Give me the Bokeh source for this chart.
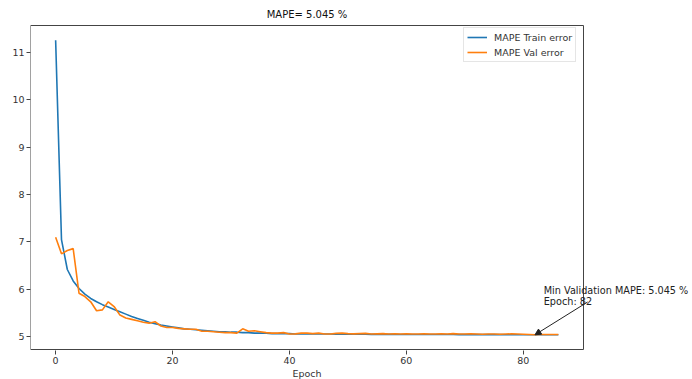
from bokeh.plotting import figure
from bokeh.models import Range1d, Label, Arrow, NormalHead, Legend, LegendItem
from bokeh.embed import file_html
from bokeh.resources import INLINE

# ---- data ----
epochs = list(range(87))
train_mape = [
    11.25, 7.05, 6.42, 6.18, 6.02, 5.90, 5.81, 5.74, 5.68, 5.63,
    5.58, 5.53, 5.48, 5.43, 5.39, 5.35, 5.31, 5.28, 5.25, 5.23,
    5.21, 5.19, 5.17, 5.16, 5.15, 5.14, 5.13, 5.12, 5.11, 5.11,
    5.10, 5.10, 5.09, 5.09, 5.08, 5.08, 5.08, 5.07, 5.07, 5.07,
    5.07, 5.06, 5.06, 5.06, 5.06, 5.06, 5.06, 5.06, 5.055, 5.055,
    5.055, 5.055, 5.055, 5.055, 5.054, 5.054, 5.053, 5.053, 5.053, 5.052,
    5.052, 5.052, 5.051, 5.051, 5.051, 5.050, 5.050, 5.050, 5.050, 5.049,
    5.049, 5.049, 5.049, 5.048, 5.048, 5.048, 5.048, 5.047, 5.047, 5.047,
    5.047, 5.046, 5.046, 5.046, 5.046, 5.045, 5.045,
]
val_mape = [
    7.10, 6.75, 6.82, 6.86, 5.92, 5.85, 5.74, 5.55, 5.57, 5.74,
    5.64, 5.46, 5.40, 5.37, 5.34, 5.31, 5.29, 5.32, 5.23, 5.20,
    5.20, 5.18, 5.17, 5.16, 5.16, 5.12, 5.12, 5.11, 5.10, 5.09,
    5.09, 5.08, 5.17, 5.12, 5.13, 5.11, 5.09, 5.08, 5.08, 5.09,
    5.06, 5.065, 5.08, 5.08, 5.07, 5.08, 5.06, 5.06, 5.075, 5.08,
    5.07, 5.065, 5.07, 5.075, 5.06, 5.065, 5.07, 5.06, 5.065, 5.06,
    5.065, 5.06, 5.06, 5.065, 5.06, 5.06, 5.065, 5.06, 5.07, 5.06,
    5.06, 5.065, 5.06, 5.055, 5.06, 5.06, 5.055, 5.06, 5.065, 5.06,
    5.055, 5.05, 5.045, 5.05, 5.05, 5.05, 5.05,
]
x_ticks = [0, 20, 40, 60, 80]
y_ticks = [5, 6, 7, 8, 9, 10, 11]
best_epoch = 82
best_val = 5.045
title_text = "MAPE= 5.045 %"
legend_labels = ["MAPE Train error", "MAPE Val error"]
x_label = "Epoch"

# axes limits (matplotlib style, 5% margins)
xlim = (-4.3, 90.3)
ylim = (4.735, 11.56)

FONT = "DejaVu Sans"
BLUE = "#1f77b4"
ORANGE = "#ff7f0e"
SPINE = "#444"

# ---- layout (pixels) ----
W, H = 692, 379
LEFT, TOP, BOTTOM = 30, 24, 350      # frame edges
AX_RIGHT = 583                        # where the drawn axes box ends
frame_w = W - LEFT
px_per_x = (AX_RIGHT - LEFT) / (xlim[1] - xlim[0])
x_view = (xlim[0], xlim[0] + frame_w / px_per_x)
pad_y = 1.0 / ((BOTTOM - TOP - 2) / (ylim[1] - ylim[0]))
y_view = (ylim[0] - pad_y, ylim[1] + pad_y)
px_per_y = (BOTTOM - TOP) / (y_view[1] - y_view[0])

p = figure(
    width=W, height=H,
    x_range=Range1d(*x_view), y_range=Range1d(*y_view),
    output_backend="svg", toolbar_location=None,
    min_border_left=LEFT, min_border_right=0,
    min_border_top=TOP, min_border_bottom=H - BOTTOM,
)
p.outline_line_color = None
p.xgrid.visible = False
p.ygrid.visible = False

for ax in (p.xaxis[0], p.yaxis[0]):
    ax.major_tick_line_color = SPINE
    ax.major_tick_out = 4
    ax.major_tick_in = 0
    ax.minor_tick_line_color = None
    ax.major_label_text_font = FONT
    ax.major_label_text_font_size = "9.5px"
    ax.major_label_text_color = "#333"
    ax.major_label_standoff = 2
p.xaxis.axis_line_color = None
p.yaxis.axis_line_color = None
p.xaxis.ticker = x_ticks
p.yaxis.ticker = y_ticks

# matplotlib-like axes box
box_x = [xlim[0], xlim[1], xlim[1], xlim[0], xlim[0]]
box_y = [ylim[0], ylim[0], ylim[1], ylim[1], ylim[0]]
p.line(box_x, box_y, line_color=SPINE, line_width=1)

r1 = p.line(epochs, train_mape, line_color=BLUE, line_width=1.6)
r2 = p.line(epochs, val_mape, line_color=ORANGE, line_width=1.6)

legend = Legend(
    items=[LegendItem(label=legend_labels[0], renderers=[r1]),
           LegendItem(label=legend_labels[1], renderers=[r2])],
    location=(433, BOTTOM - 62),
    label_text_font=FONT, label_text_font_size="9.5px", label_text_color="#333",
    glyph_width=20, glyph_height=12, label_height=12, label_standoff=7,
    padding=3, spacing=3, margin=0,
    border_line_color="#ccc", border_line_width=1,
    background_fill_alpha=0.8,
)
p.add_layout(legend)

# title, centred over the axes box
xmid = (xlim[0] + xlim[1]) / 2
p.add_layout(Label(
    x=xmid, y=ylim[1] + (TOP - 13) / px_per_y,
    text=title_text, text_font=FONT, text_font_size="10px", text_color="#111",
    text_align="center", text_baseline="middle",
), "above")
# x-axis label, centred under the axes box
p.add_layout(Label(
    x=xmid, y=ylim[0] - (374 - BOTTOM) / px_per_y,
    text=x_label, text_font=FONT, text_font_size="9.5px", text_color="#333",
    text_align="center", text_baseline="middle",
), "below")

# min validation annotation
p.add_layout(Arrow(
    end=NormalHead(size=6, fill_color="#222", line_color="#222"),
    x_start=best_epoch + 9.0, y_start=best_val + 0.69,
    x_end=best_epoch, y_end=best_val,
    line_color="#222", line_width=1,
))
p.add_layout(Label(
    x=best_epoch + 1.5, y=best_val + 0.93,
    text="Min Validation MAPE: %.3f %%" % best_val,
    text_font=FONT, text_font_size="9.7px", text_color="#222",
    text_baseline="middle", text_align="left",
))
p.add_layout(Label(
    x=best_epoch + 1.5, y=best_val + 0.70,
    text="Epoch: %d" % best_epoch,
    text_font=FONT, text_font_size="9.7px", text_color="#222",
    text_baseline="middle", text_align="left",
))

open("out.html", "w").write(file_html(p, INLINE))
